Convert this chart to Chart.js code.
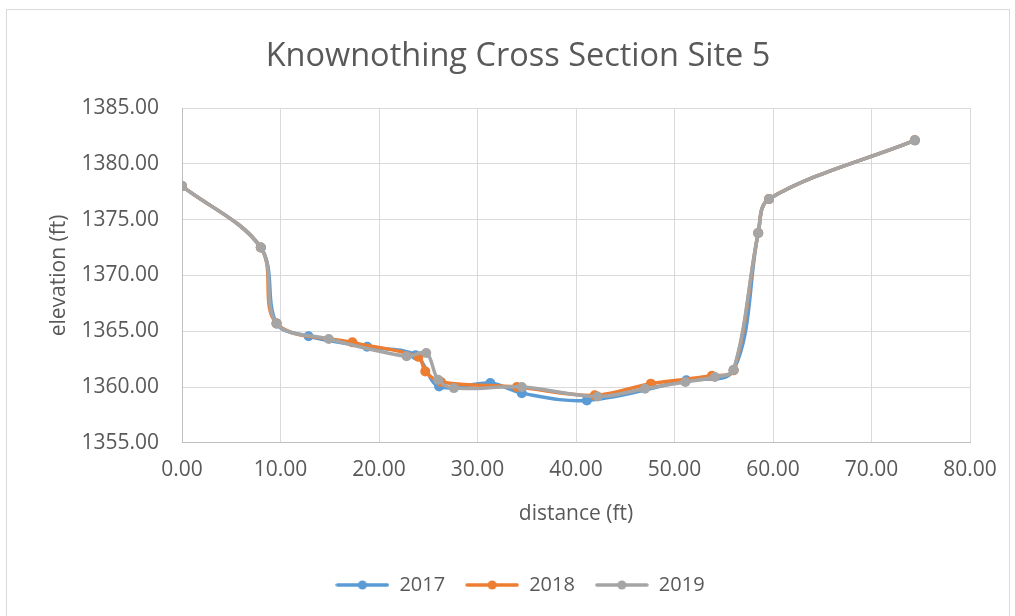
<!DOCTYPE html>
<html>
<head>
<meta charset="utf-8">
<script src="https://cdn.jsdelivr.net/npm/chart.js@4/dist/chart.umd.min.js"></script>
<style>
  html, body { margin: 0; padding: 0; background: #fff; }
  #wrap { width: 1015px; height: 616px; position: relative; }
</style>
</head>
<body>
<div id="wrap"><canvas id="chart" width="1015" height="616"></canvas></div>
<script>
// distance (ft) / elevation (ft) per survey year
const dist2017 = [0, 8.0, 9.6, 12.85, 18.8, 23.7, 26.1, 31.3, 34.5, 41.1, 51.2, 56.0, 58.5, 59.6, 74.4];
const elev2017 = [1378.0, 1372.5, 1365.7, 1364.55, 1363.6, 1362.85, 1360.05, 1360.35, 1359.45, 1358.8, 1360.6, 1361.5, 1373.8, 1376.85, 1382.1];

const dist2018 = [0, 8.0, 9.6, 17.3, 24.0, 24.7, 26.3, 34.0, 41.9, 47.6, 53.8, 56.0, 58.5, 59.6, 74.4];
const elev2018 = [1378.0, 1372.5, 1365.7, 1364.0, 1362.7, 1361.4, 1360.45, 1360.0, 1359.25, 1360.3, 1361.0, 1361.5, 1373.8, 1376.85, 1382.1];

const dist2019 = [0, 8.0, 9.6, 14.9, 22.8, 24.8, 26.0, 27.6, 34.5, 42.2, 47.0, 51.1, 54.1, 56.0, 58.5, 59.6, 74.4];
const elev2019 = [1378.0, 1372.5, 1365.7, 1364.3, 1362.75, 1363.05, 1360.65, 1359.9, 1360.0, 1359.15, 1359.85, 1360.45, 1360.9, 1361.55, 1373.8, 1376.85, 1382.1];

const years = ['2017', '2018', '2019'];
const colors = ['#5B9BD5', '#ED7D31', '#A5A5A5'];
const xTicks = [0, 10, 20, 30, 40, 50, 60, 70, 80];
const yTicks = [1355, 1360, 1365, 1370, 1375, 1380, 1385];

const textColor = '#595959';
const font = 'Open Sans';

function pts(xs, ys) {
  return xs.map((x, i) => ({ x: x, y: ys[i] }));
}

// legend sample: short line with a marker in the middle
function legendIcon(color) {
  const c = document.createElement('canvas');
  c.width = 54; c.height = 12;
  const g = c.getContext('2d');
  g.strokeStyle = color; g.lineWidth = 3.5; g.lineCap = 'round';
  g.beginPath(); g.moveTo(2, 6); g.lineTo(52, 6); g.stroke();
  g.fillStyle = color;
  g.beginPath(); g.arc(27, 6, 4.5, 0, Math.PI * 2); g.fill();
  return c;
}

const series = [pts(dist2017, elev2017), pts(dist2018, elev2018), pts(dist2019, elev2019)];

const datasets = years.map((yr, i) => ({
  label: yr,
  data: series[i],
  showLine: true,
  borderColor: colors[i],
  backgroundColor: colors[i],
  borderWidth: 3.5,
  pointRadius: 5,
  pointHoverRadius: 5,
  pointBorderWidth: 0,
  tension: 0.35,
  order: 3 - i   // 2019 on top
}));

const frame = {
  id: 'frame',
  beforeDraw(chart) {
    const ctx = chart.ctx;
    ctx.save();
    ctx.fillStyle = '#fff';
    ctx.fillRect(0, 0, chart.width, chart.height);
    ctx.strokeStyle = '#D9D9D9';
    ctx.lineWidth = 1;
    ctx.strokeRect(6.5, 9.5, 1003, 640);
    ctx.restore();
  },
  // the original centres title and legend a little right of the layout box
  afterLayout(chart) {
    if (chart.titleBlock) { chart.titleBlock.left += 10; chart.titleBlock.right += 10; }
    if (chart.legend) { chart.legend.left += 12; chart.legend.right += 12; }
  }
};

new Chart(document.getElementById('chart'), {
  type: 'scatter',
  data: { datasets },
  plugins: [frame],
  options: {
    responsive: false,
    animation: false,
    layout: { padding: { left: 46, right: 45, top: 0, bottom: 11 } },
    plugins: {
      title: {
        display: true,
        text: 'Knownothing Cross Section Site 5',
        color: textColor,
        font: { family: font, size: 32.5, weight: 'normal' },
        padding: { top: 37, bottom: 32 }
      },
      legend: {
        position: 'bottom',
        title: { display: true, text: '', font: { size: 1 }, padding: { top: 0, bottom: 27 } },
        labels: {
          usePointStyle: true,
          pointStyleWidth: 54,
          color: textColor,
          font: { family: font, size: 20 },
          padding: 20,
          sort: (a, b) => a.datasetIndex - b.datasetIndex,
          generateLabels(chart) {
            return chart.data.datasets.map((ds, i) => ({
              text: ds.label,
              fontColor: textColor,
              pointStyle: legendIcon(colors[i]),
              datasetIndex: i,
              hidden: false,
              lineWidth: 0
            }));
          }
        }
      },
      tooltip: { enabled: false }
    },
    scales: {
      x: {
        type: 'linear',
        min: xTicks[0],
        max: xTicks[xTicks.length - 1],
        afterBuildTicks(scale) { scale.ticks = xTicks.map(v => ({ value: v })); },
        afterFit(scale) { scale.height = 84; },
        grid: { color: '#D9D9D9', drawTicks: false },
        border: { color: '#BFBFBF', width: 1 },
        ticks: {
          padding: 15,
          color: textColor,
          font: { family: font, size: 21 },
          callback: v => v.toFixed(2)
        },
        title: {
          display: true,
          text: 'distance (ft)',
          color: textColor,
          font: { family: font, size: 21 },
          padding: 0
        }
      },
      y: {
        type: 'linear',
        min: yTicks[0],
        max: yTicks[yTicks.length - 1],
        afterBuildTicks(scale) { scale.ticks = yTicks.map(v => ({ value: v })); },
        afterFit(scale) { scale.width = 136; },
        grid: { color: '#D9D9D9', drawTicks: false },
        border: { color: '#BFBFBF', width: 1 },
        ticks: {
          padding: 23,
          color: textColor,
          font: { family: font, size: 21 },
          callback: v => v.toFixed(2)
        },
        title: {
          display: true,
          text: 'elevation (ft)',
          color: textColor,
          font: { family: font, size: 21 },
          padding: 0
        }
      }
    }
  }
});
</script>
</body>
</html>
